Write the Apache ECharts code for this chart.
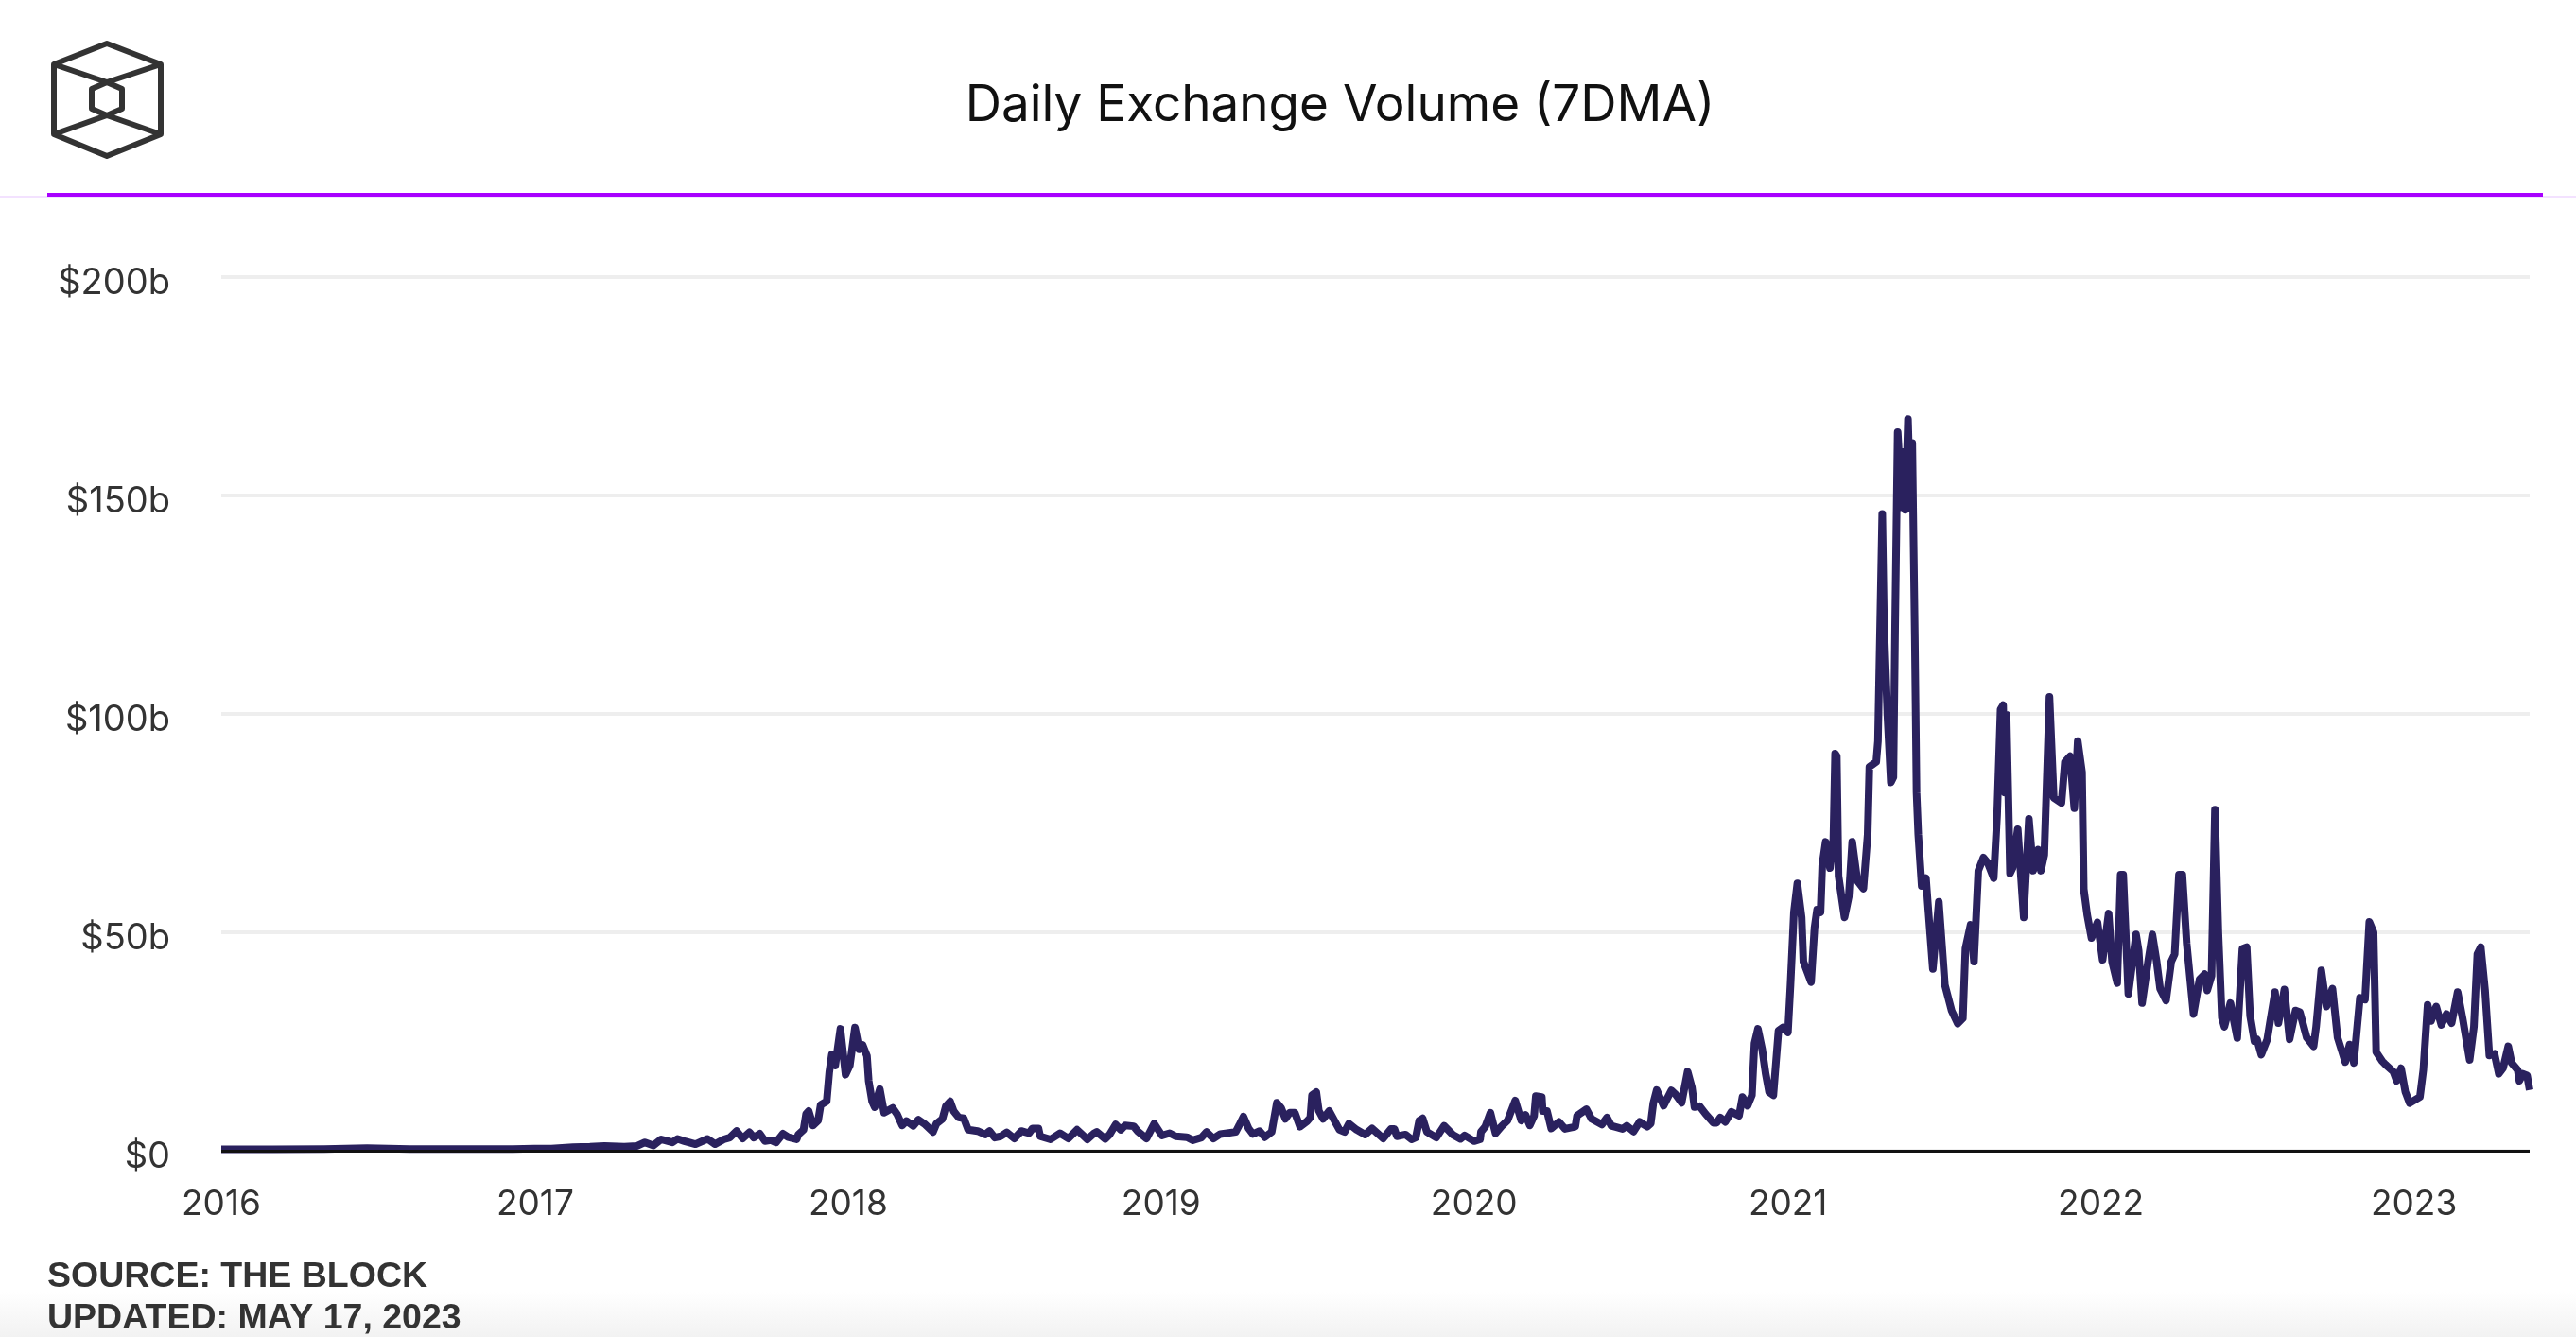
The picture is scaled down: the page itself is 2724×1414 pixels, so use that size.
<!DOCTYPE html>
<html lang="en">
<head>
    <meta charset="UTF-8">
    <title>Daily Exchange Volume (7DMA)</title>
    <script src="https://cdn.jsdelivr.net/npm/echarts@6/dist/echarts.min.js"></script>
    <style>
        html, body { margin: 0; padding: 0; background: #fff; }
        #main { width: 2724px; height: 1414px; }
    </style>
</head>
<body>
<div id="main"></div>
<script>
    // days since 2016-01-01 and volume in $b, same order in both lists
    const days = [
        0, 60, 120, 170, 220, 280, 340, 365, 385, 410, 430,
        // 2017 - 2018
        447, 470, 485, 494, 504, 513, 526, 532, 540, 553,
        567, 576, 586, 593, 601, 608, 616, 621, 628, 634,
        641, 647, 655, 661, 671, 673, 679, 682, 685, 690,
        696, 699, 706, 709, 712, 716, 722, 728, 733, 739,
        744, 748, 753, 755, 759, 762, 768, 773, 783, 788,
        794, 799, 807, 813, 821, 830, 834, 841, 845, 850,
        854, 860, 866, 871, 882, 891, 896, 902, 909, 916,
        925, 933, 942, 946, 953, 955, 967, 978, 988, 998,
        1010, 1018,
        // 2018 end - 2020
        1021, 1031, 1036, 1043, 1049, 1054, 1064, 1069, 1079, 1088,
        1097, 1106, 1113, 1126, 1133, 1143, 1149, 1157, 1165, 1183,
        1187, 1192, 1198, 1203, 1211, 1217, 1225, 1231, 1236, 1241,
        1246, 1252, 1258, 1266, 1270, 1272, 1277, 1280, 1285, 1292,
        1304, 1310, 1315, 1324, 1334, 1342, 1355, 1364, 1368, 1371,
        1381, 1388, 1393, 1397, 1401, 1406, 1417, 1426, 1436, 1445,
        1450, 1461, 1468, 1469, 1474, 1480, 1486, 1493, 1500, 1509,
        1516, 1521, 1526, 1531, 1533, 1540, 1541, 1546,
        // 2020
        1551, 1560, 1567, 1579, 1581, 1592, 1598, 1610, 1616, 1621,
        1634, 1639, 1647, 1654, 1663, 1667, 1670, 1674, 1682, 1691,
        1696, 1703, 1710, 1715, 1718, 1724, 1731, 1740, 1744, 1748,
        1754, 1761, 1770, 1774, 1780, 1785, 1788, 1792, 1797, 1801,
        1805, 1810, 1816, 1821, 1827,
        // 2021
        1830, 1834, 1838, 1843, 1845, 1854, 1858, 1861, 1865, 1867,
        1871, 1876, 1880, 1882, 1884, 1886, 1893, 1898, 1902, 1908,
        1915, 1920, 1922, 1930, 1932, 1937, 1939, 1943, 1947, 1950,
        1952, 1955, 1960, 1962, 1964, 1967, 1970, 1972, 1975, 1977,
        1979, 1983, 1988, 1990, 1996, 2003, 2010, 2018, 2025, 2031,
        2034, 2040, 2044, 2049, 2055, 2060, 2067, 2071, 2075, 2078,
        2080, 2082, 2086, 2089, 2095, 2102, 2108, 2113, 2119, 2122,
        2126, 2132, 2137, 2146, 2150, 2156, 2161, 2165, 2170,
        // 2022
        2172, 2176, 2181, 2188, 2194, 2201, 2205, 2211, 2215, 2218,
        2224, 2233, 2236, 2240, 2247, 2252, 2257, 2261, 2268, 2274,
        2278, 2283, 2287, 2292, 2300, 2307, 2313, 2316, 2321, 2325,
        2329, 2333, 2336, 2343, 2351, 2357, 2362, 2366, 2371, 2374,
        2379, 2386, 2389, 2395, 2399, 2406, 2412, 2419, 2424, 2432,
        2440, 2443, 2449, 2455, 2462, 2468, 2477, 2482, 2487, 2494,
        2500, 2505, 2510, 2513, 2520, 2524, 2533, 2537, 2542, 2547,
        // 2023
        2552, 2564, 2568, 2573, 2577, 2583, 2589, 2595, 2601, 2608,
        2614, 2622, 2627, 2631, 2635, 2640, 2645, 2651, 2656, 2661,
        2667, 2671, 2678, 2680, 2684, 2689, 2692
    ];
    const volume = [
        0.3, 0.3, 0.4, 0.6, 0.4, 0.4, 0.4, 0.5, 0.5, 0.8, 0.9,
        // 2017 - 2018
        1.1, 0.9, 1.1, 1.9, 1.2, 2.6, 1.9, 2.7, 2.2, 1.5,
        2.7, 1.5, 2.6, 3, 4.5, 2.8, 4.2, 3, 3.9, 2.2,
        2.4, 1.9, 3.9, 3.1, 2.6, 3.7, 4.8, 8.4, 9.1, 5.8,
        6.9, 10.5, 11.3, 18, 22, 19.5, 27.9, 17.4, 19.5, 28.2,
        23.2, 24.2, 21.7, 16, 11.3, 10, 14.1, 8.7, 9.8, 8.4,
        5.8, 6.8, 5.7, 7.1, 6, 4.3, 6.2, 7.3, 10.2, 11.3,
        9.1, 7.6, 7.4, 4.8, 4.5, 3.7, 4.5, 3, 3.3, 4.2,
        2.8, 4.5, 4, 5.1, 5.1, 3.3, 2.6, 4, 2.8, 4.8,
        2.6, 4,
        // 2018 end - 2020
        4.3, 2.7, 3.7, 6, 4.8, 5.8, 5.6, 4.4, 2.8, 6.2,
        3.5, 4, 3.3, 3.1, 2.4, 3, 4.3, 2.8, 3.8, 4.3,
        5.8, 7.8, 5.1, 3.8, 4.5, 3.1, 4.3, 11, 9.8, 7.3,
        8.7, 8.7, 5.5, 6.7, 7.6, 12.7, 13.4, 9.1, 7.3, 9.1,
        4.8, 4.3, 6.2, 4.8, 3.7, 5.1, 2.8, 5, 5, 3.3,
        3.7, 2.6, 3, 6.9, 7.4, 4.3, 3, 5.7, 3.7, 2.7,
        3.5, 2.2, 2.6, 4.3, 5.5, 8.7, 4, 5.6, 6.9, 11.5,
        6.9, 8.2, 5.8, 8, 12.5, 12.3, 9.1, 9.1,
        // 2020
        5.1, 6.6, 5, 5.5, 8, 9.5, 7.3, 6, 7.6, 5.7,
        5, 5.7, 4.4, 6.6, 5.5, 6.2, 10.9, 13.9, 10.3, 13.8,
        12.9, 11, 18.1, 14.5, 10, 10.2, 8.4, 6.4, 6.4, 7.6,
        6.6, 8.9, 8, 12.3, 10.3, 12.7, 24.6, 27.9, 23.2, 17.7,
        13.4, 12.7, 27.5, 28.2, 27.1,
        // 2021
        38, 54.6, 61.2, 53.4, 43.3, 38.6, 51, 55.2, 54.6, 65.3,
        70.7, 64.7, 71.3, 90.9, 90.3, 62.9, 53.4, 58.2, 70.7, 61.8,
        60, 72.4, 87.9, 89, 93.8, 145.8, 121, 99.8, 84.3, 85.5,
        120, 164.5, 147.3, 160, 146.7, 167.5, 147, 162, 117.6, 82,
        72.4, 60.6, 62.4, 57, 41.6, 57, 38, 32, 29.1, 30.3,
        46.3, 51.7, 43.3, 64.1, 67.1, 65.9, 62.4, 77, 101, 102,
        82, 99.8, 63.5, 64.7, 73.6, 53.4, 76, 64.1, 68.9, 64.1,
        67.7, 103.9, 80.8, 79.6, 89, 90.3, 78.4, 93.8, 86.7,
        // 2022
        59.9, 54, 48.7, 52.3, 43.7, 54.3, 43.3, 38.4, 63.2, 63.2,
        35.9, 49.5, 45.8, 33.8, 43.3, 49.5, 43.3, 37.1, 34.4, 43.3,
        45, 63.2, 63.2, 47.5, 31.3, 39.2, 40.4, 36.7, 40, 78.1,
        50, 30.5, 28.4, 33.8, 25.8, 46.2, 46.6, 30.9, 25.1, 25.5,
        22, 25.5, 29.2, 36.3, 29.2, 36.9, 25.5, 32.1, 31.7, 25.9,
        23.9, 28.4, 41.3, 33, 37.1, 25.9, 20.3, 24.3, 20.1, 35,
        34.6, 52.4, 50, 22.6, 20.5, 19.7, 18.1, 16, 18.9, 13.5,
        // 2023
        10.9, 12.3, 18.5, 33.4, 29.7, 33, 28.8, 31.3, 29.2, 36.3,
        30.1, 20.8, 28.4, 45, 46.6, 36.7, 21.8, 22.2, 17.6, 18.9,
        23.9, 20.1, 18.5, 16, 17.6, 17.2, 13.9
    ];
    const yearLabels = ['2016', '2017', '2018', '2019', '2020', '2021', '2022', '2023'];
    const yTicks = [0, 50, 100, 150, 200];

    const titleText = 'Daily Exchange Volume (7DMA)';
    const sourceText = 'SOURCE: THE BLOCK';
    const updatedText = 'UPDATED: MAY 17, 2023';

    let myChart = echarts.init(document.getElementById('main'), null, {renderer: 'canvas'});

    function dayToTime(d) {
        return new Date(2016, 0, 1 + d).getTime();
    }

    let seriesData = days.map(function (d, i) {
        return [dayToTime(d), volume[i]];
    });

    // cube logo, purple rule, footer
    let logoStyle = {fill: 'none', stroke: '#333333', lineWidth: 6, lineJoin: 'round'};
    let graphics = [
        {type: 'rect', z: -1, shape: {x: 0, y: 1366, width: 2724, height: 48},
            style: {fill: new echarts.graphic.LinearGradient(0, 0, 0, 1, [
                {offset: 0, color: '#ffffff'}, {offset: 1, color: '#f2f2f2'}])}},
        {type: 'rect', shape: {x: 0, y: 207, width: 2724, height: 2}, style: {fill: '#f3e2ff'}},
        {type: 'rect', shape: {x: 50, y: 204, width: 2639, height: 4}, style: {fill: '#a800ff'}},
        {type: 'polygon', shape: {points: [[113, 46], [170, 68], [170, 142], [113, 165], [57, 142], [57, 68]]}, style: logoStyle},
        {type: 'polygon', shape: {points: [[113, 87], [129, 94], [129, 115], [113, 122], [97, 115], [97, 94]]}, style: logoStyle},
        {type: 'polyline', shape: {points: [[57, 68], [113, 87], [170, 68]]}, style: logoStyle},
        {type: 'polyline', shape: {points: [[57, 142], [113, 122], [170, 142]]}, style: logoStyle},
        {type: 'text', x: 1417, y: 112, style: {text: titleText, font: '400 53px Inter', fill: '#111111', align: 'center', verticalAlign: 'middle'}},
        {type: 'text', x: 50, y: 1351, style: {text: sourceText, font: 'bold 37.5px "Liberation Sans"', fill: '#333333', verticalAlign: 'middle'}},
        {type: 'text', x: 50, y: 1395, style: {text: updatedText, font: 'bold 37.5px "Liberation Sans"', fill: '#333333', verticalAlign: 'middle'}}
    ];

    let option = {
        animation: false,
        backgroundColor: '#ffffff',
        graphic: graphics,
        grid: {left: 234, top: 293, width: 2441, height: 924},
        xAxis: {
            type: 'time',
            min: dayToTime(days[0]),
            max: dayToTime(days[days.length - 1]),
            minInterval: 365 * 24 * 3600 * 1000,
            axisLine: {show: false},
            axisTick: {show: false},
            splitLine: {show: false},
            axisLabel: {
                formatter: function (value) {
                    let d = new Date(value);
                    let year = String(d.getFullYear());
                    // only the first of january carries a label
                    return d.getMonth() === 0 && d.getDate() === 1 && yearLabels.indexOf(year) >= 0 ? year : '';
                },
                hideOverlap: false,
                margin: 38,
                color: '#333333',
                fontFamily: 'Inter',
                fontSize: 37
            }
        },
        yAxis: {
            type: 'value',
            min: yTicks[0],
            max: yTicks[yTicks.length - 1],
            interval: 50,
            axisLine: {show: false},
            axisTick: {show: false},
            splitLine: {lineStyle: {color: '#eeeeee', width: 4}},
            axisLabel: {
                formatter: function (value) {
                    return '$' + value + (value === 0 ? '' : 'b');
                },
                margin: 54,
                verticalAlign: 'top',
                lineHeight: 14,
                color: '#333333',
                fontFamily: 'Inter',
                fontSize: 38
            }
        },
        series: [
            {
                name: 'Daily Exchange Volume',
                type: 'line',
                data: seriesData,
                showSymbol: false,
                lineStyle: {color: '#2a215e', width: 8, join: 'round'},
                markLine: {
                    silent: true,
                    symbol: 'none',
                    label: {show: false},
                    lineStyle: {color: '#111111', width: 3, type: 'solid'},
                    data: [{yAxis: 0}]
                }
            }
        ]
    };

    myChart.setOption(option);
</script>
</body>
</html>
